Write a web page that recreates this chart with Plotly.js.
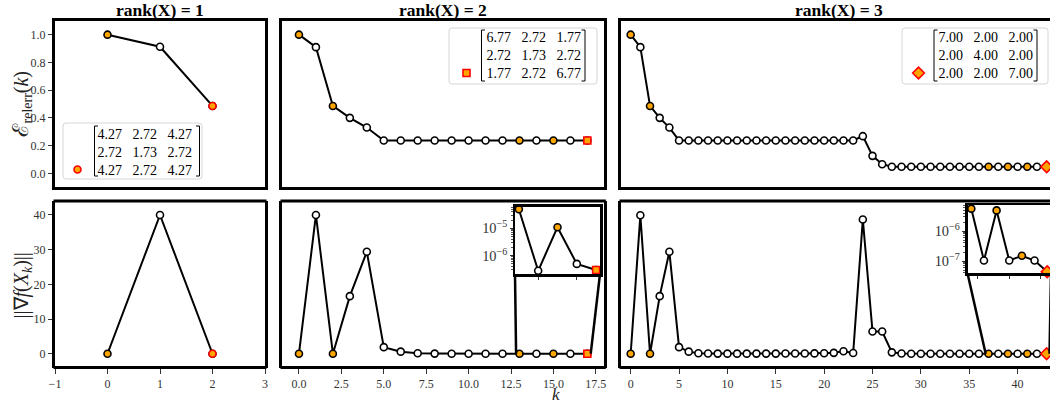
<!DOCTYPE html>
<html><head><meta charset="utf-8">
<script src="https://cdn.plot.ly/plotly-3.0.1.min.js"></script>
<style>html,body{margin:0;padding:0;overflow:hidden;background:#fff}</style>
</head><body><div id="chart" style="width:1065px;height:405px"></div>
<script>
// ---------------- data ----------------
const titles = ["rank(X) = 1", "rank(X) = 2", "rank(X) = 3"];

const k1 = [0, 1, 2];
const relerr1 = [1.0, 0.913, 0.486];
const grad1 = [0.0, 40.0, 0.0];
const orange1 = [0];

const k2 = [0,1,2,3,4,5,6,7,8,9,10,11,12,13,14,15,16,17];
const relerr2 = [1.0, 0.91, 0.486, 0.40, 0.33, 0.237, 0.237, 0.237, 0.237, 0.237, 0.237, 0.237, 0.237, 0.237, 0.237, 0.237, 0.237, 0.237];
const grad2 = [0.0, 40.0, 0.0, 16.6, 29.4, 1.9, 0.6, 0.12, 0.03, 0.008, 0.002, 0.0006, 0.0002, 5.0e-5, 2.8e-7, 1.1e-5, 5.0e-7, 3.0e-7];
const orange2 = [0, 2, 13, 15];
const inset2Start = 13;

const k3 = [0,1,2,3,4,5,6,7,8,9,10,11,12,13,14,15,16,17,18,19,20,21,22,23,24,25,26,27,28,29,30,31,32,33,34,35,36,37,38,39,40,41,42,43];
const relerr3 = [1.0, 0.91, 0.486, 0.40, 0.33,
  0.237, 0.237, 0.237, 0.237, 0.237, 0.237, 0.237, 0.237, 0.237, 0.237, 0.237, 0.237, 0.237, 0.237, 0.237, 0.237, 0.237, 0.237, 0.237,
  0.268, 0.126, 0.066,
  0.047, 0.047, 0.047, 0.047, 0.047, 0.047, 0.047, 0.047, 0.047, 0.047, 0.047, 0.047, 0.047, 0.047, 0.047, 0.047, 0.047];
const grad3 = [0.0, 39.9, 0.0, 16.6, 29.4, 1.9, 0.6,
  0.15, 0.05, 0.03, 0.02, 0.02, 0.02, 0.03, 0.03, 0.04, 0.05, 0.06, 0.08, 0.1, 0.15, 0.25, 0.7, 0.2,
  38.7, 6.4, 6.4, 0.4,
  0.05, 0.01, 0.003, 0.001, 4e-4, 1.5e-4, 6e-5, 2.5e-5, 1e-5,
  5.6e-6, 1.04e-7, 4.9e-6, 1.04e-7, 1.5e-7, 1.04e-7, 4.4e-8];
const orange3 = [0, 2, 37, 39, 41];
const inset3Start = 37;

const mat1 = [["4.27","2.72","4.27"],["2.72","1.73","2.72"],["4.27","2.72","4.27"]];
const mat2 = [["6.77","2.72","1.77"],["2.72","1.73","2.72"],["1.77","2.72","6.77"]];
const mat3 = [["7.00","2.00","2.00"],["2.00","4.00","2.00"],["2.00","2.00","7.00"]];

const xTicks2 = [0, 2.5, 5, 7.5, 10, 12.5, 15, 17.5];

// ---------------- layout geometry (pixels) ----------------
const W = 1065, H = 405;
const px = x => x / W;
const py = y => 1 - y / H;
const domX = (a, b) => [px(a), px(b)];
const domY = (top, bottom) => [py(bottom), py(top)];

const COLS = [[55, 265], [282, 604.3], [621, 1056.3]];
const ROWS = [[20.8, 187.2], [201.1, 367.6]];
const XR = [[-1, 3], [-1, 18], [-1, 44]];
const YR = [[-0.1, 1.1], [-4, 44]];
const IN2 = {x: [515, 600], y: [206.7, 274], xr: [12.8, 17.2], yr: [-6.67, -4.21], tv: [14, 16]};
const IN3 = {x: [967.5, 1051], y: [205, 273.3], xr: [36.7, 43.3], yr: [-7.41, -5.13], tv: [37.5, 40, 42.5]};

const ORANGE = '#FFA500', RED = '#FF0000';
const SERIF = "'Liberation Serif', 'Times New Roman', serif";
const LW = 3;

function dataToPx(col, row, xv, yv) {
  const [x0, x1] = COLS[col], [t, b] = ROWS[row];
  const xr = XR[col], yr = YR[row];
  return [x0 + (xv - xr[0]) / (xr[1] - xr[0]) * (x1 - x0), b - (yv - yr[0]) / (yr[1] - yr[0]) * (b - t)];
}

// ---------------- traces ----------------
const traces = [];
function addPanel(xs, ys, orangeIdx, xa, ya, finalSym, finalSize, legendId, legendName, showLeg) {
  traces.push({
    type: 'scatter', mode: 'lines+markers', x: xs, y: ys, xaxis: xa, yaxis: ya,
    line: {color: '#000', width: 2},
    marker: {size: 7, color: xs.map((_, i) => orangeIdx.includes(i) ? ORANGE : '#fff'), line: {color: '#000', width: 1.6}},
    showlegend: false, cliponaxis: false, hoverinfo: 'skip'
  });
  const n = xs.length;
  traces.push({
    type: 'scatter', mode: 'markers', x: [xs[n - 1]], y: [ys[n - 1]], xaxis: xa, yaxis: ya,
    marker: {symbol: finalSym, size: finalSize, color: ORANGE, line: {color: RED, width: 1.6}},
    showlegend: showLeg, legend: legendId, name: legendName, cliponaxis: false, hoverinfo: 'skip'
  });
}
const NB = '\u00a0\u00a0\u00a0';
const matText = m => m.map(r => r.join(NB)).join('<br>');

addPanel(k1, relerr1, orange1, 'x', 'y', 'circle', 7, 'legend', matText(mat1), true);
addPanel(k2, relerr2, orange2, 'x2', 'y2', 'square', 7, 'legend2', matText(mat2), true);
addPanel(k3, relerr3, orange3, 'x3', 'y3', 'diamond', 9, 'legend3', matText(mat3), true);
addPanel(k1, grad1, orange1, 'x4', 'y4', 'circle', 7, 'legend', 'g1', false);
addPanel(k2, grad2, orange2, 'x5', 'y5', 'square', 7, 'legend2', 'g2', false);
addPanel(k3, grad3, orange3, 'x6', 'y6', 'diamond', 9, 'legend3', 'g3', false);
addPanel(k2.slice(inset2Start), grad2.slice(inset2Start), orange2.map(i => i - inset2Start), 'x7', 'y7', 'square', 7, 'legend2', 'i2', false);
addPanel(k3.slice(inset3Start), grad3.slice(inset3Start), orange3.map(i => i - inset3Start), 'x8', 'y8', 'diamond', 9, 'legend3', 'i3', false);

// ---------------- axes ----------------
const layout = {
  width: W, height: H, margin: {l: 0, r: 0, t: 0, b: 0},
  paper_bgcolor: '#fff', plot_bgcolor: '#fff',
  font: {family: SERIF, color: '#222'},
  showlegend: true, shapes: [], annotations: []
};
const frame = {showline: true, mirror: true, linecolor: '#000', linewidth: LW, showgrid: false, zeroline: false, fixedrange: true, automargin: false};
const tickOn = {ticks: 'outside', ticklen: 4, tickwidth: 1, tickcolor: '#333', tickfont: {family: SERIF, size: 12, color: '#333'}};
const tickOff = {ticks: '', showticklabels: false};

for (let r = 0; r < 2; r++) {
  for (let c = 0; c < 3; c++) {
    const n = r * 3 + c + 1;
    const xk = n === 1 ? 'xaxis' : 'xaxis' + n;
    const yk = n === 1 ? 'yaxis' : 'yaxis' + n;
    const xa = Object.assign({}, frame, r === 1 ? tickOn : tickOff, {
      domain: domX(COLS[c][0], COLS[c][1]), range: XR[c], anchor: 'y' + (n === 1 ? '' : n)
    });
    if (r === 1) {
      // horizontal frame lines of the bottom row are drawn as domain shapes
      xa.showline = false; xa.ticklen = 5;
      if (c === 0) { xa.tickvals = [-1, 0, 1, 2, 3]; }
      if (c === 1) { xa.tickvals = xTicks2; xa.tickformat = '.1f'; }
      if (c === 2) { xa.dtick = 5; xa.tick0 = 0; }
      const ext = (LW / 2) / (COLS[c][1] - COLS[c][0]);
      [0, 1].forEach(yd => layout.shapes.push({
        type: 'line', xref: 'x' + n + ' domain', yref: 'y' + n + ' domain', layer: 'above',
        x0: -ext, x1: 1 + ext, y0: yd, y1: yd, line: {color: '#000', width: LW}
      }));
    }
    const ya = Object.assign({}, frame, c === 0 ? tickOn : tickOff, {
      domain: domY(ROWS[r][0], ROWS[r][1]), range: YR[r], anchor: 'x' + (n === 1 ? '' : n)
    });
    if (c === 0 && r === 0) { ya.dtick = 0.2; ya.tick0 = 0; ya.tickformat = '.1f'; }
    if (c === 0 && r === 1) { ya.dtick = 10; ya.tick0 = 0; }
    layout[xk] = xa; layout[yk] = ya;
  }
}
function insetAxes(n, ins) {
  layout['xaxis' + n] = Object.assign({}, frame, {
    linewidth: 2.5, domain: domX(ins.x[0], ins.x[1]), range: ins.xr, anchor: 'y' + n,
    ticks: 'outside', ticklen: 3, tickcolor: '#333', tickvals: ins.tv, showticklabels: false
  });
  layout['yaxis' + n] = Object.assign({}, frame, {
    linewidth: 2.5, type: 'log', domain: domY(ins.y[0], ins.y[1]), range: ins.yr, anchor: 'x' + n,
    dtick: 1, exponentformat: 'power', ticks: 'outside', ticklen: 3, tickcolor: '#333',
    tickfont: {family: SERIF, size: 11.5, color: '#333'},
    minor: {ticks: 'outside', ticklen: 2, tickcolor: '#555', dtick: 'D1'}
  });
}
insetAxes(7, IN2);
insetAxes(8, IN3);

// ---------------- legends (matrix boxes) ----------------
const LEG = [
  {id: 'legend', box: [63, 123, 202, 179], br: [94.5, 199.5, 126, 176], textLeft: 97.5, midRow: 151.5},
  {id: 'legend2', box: [449, 28, 597, 84], br: [481.5, 585, 30, 81], textLeft: 486.5, midRow: 55},
  {id: 'legend3', box: [902, 28, 1048, 84], br: [934, 1037, 30, 81], textLeft: 938.5, midRow: 55}
];
LEG.forEach(L => {
  const [bx0, by0, bx1, by1] = L.box;
  const rr = 3;
  layout.shapes.push({
    type: 'path', xref: 'paper', yref: 'paper', layer: 'above',
    path: `M ${px(bx0 + rr)} ${py(by0)} L ${px(bx1 - rr)} ${py(by0)} Q ${px(bx1)} ${py(by0)} ${px(bx1)} ${py(by0 + rr)} L ${px(bx1)} ${py(by1 - rr)} Q ${px(bx1)} ${py(by1)} ${px(bx1 - rr)} ${py(by1)} L ${px(bx0 + rr)} ${py(by1)} Q ${px(bx0)} ${py(by1)} ${px(bx0)} ${py(by1 - rr)} L ${px(bx0)} ${py(by0 + rr)} Q ${px(bx0)} ${py(by0)} ${px(bx0 + rr)} ${py(by0)} Z`,
    fillcolor: 'rgba(255,255,255,0.85)', line: {color: '#d6d6d6', width: 1}
  });
  const [l, r, t, b] = L.br, s = 3.5;
  layout.shapes.push({type: 'path', xref: 'paper', yref: 'paper', layer: 'above',
    path: `M ${px(l + s)} ${py(t)} L ${px(l)} ${py(t)} L ${px(l)} ${py(b)} L ${px(l + s)} ${py(b)}`, line: {color: '#000', width: 1}});
  layout.shapes.push({type: 'path', xref: 'paper', yref: 'paper', layer: 'above',
    path: `M ${px(r - s)} ${py(t)} L ${px(r)} ${py(t)} L ${px(r)} ${py(b)} L ${px(r - s)} ${py(b)}`, line: {color: '#000', width: 1}});
  layout[L.id] = {
    x: px(L.textLeft - 40), y: py(L.midRow), xanchor: 'left', yanchor: 'middle',
    bgcolor: 'rgba(0,0,0,0)', borderwidth: 0, valign: 'bottom',
    font: {family: SERIF, size: 14, color: '#000'}, itemclick: false, itemdoubleclick: false
  };
});

// ---------------- inset connectors ----------------
function connectors(ins, col) {
  const yBot = Math.pow(10, ins.yr[0]);
  const a = dataToPx(col, 1, ins.xr[0], yBot);
  const b = dataToPx(col, 1, ins.xr[1], yBot);
  layout.shapes.push({type: 'line', xref: 'paper', yref: 'paper', layer: 'above',
    x0: px(ins.x[0]), y0: py(ins.y[1]), x1: px(a[0]), y1: py(a[1]), line: {color: '#000', width: 2.5}});
  layout.shapes.push({type: 'line', xref: 'paper', yref: 'paper', layer: 'above',
    x0: px(ins.x[1]), y0: py(ins.y[1]), x1: px(b[0]), y1: py(b[1]), line: {color: '#000', width: 2.5}});
}
connectors(IN2, 1);
connectors(IN3, 2);

// ---------------- text ----------------
titles.forEach((t, c) => {
  layout.annotations.push({text: '<b>' + t + '</b>', xref: 'paper', yref: 'paper', x: px((COLS[c][0] + COLS[c][1]) / 2), y: py(10.5),
    xanchor: 'center', yanchor: 'middle', showarrow: false, font: {family: SERIF, size: 17.5, color: '#000'}});
});
layout.annotations.push({text: "<span style=\"font-family:'DejaVu Serif';font-size:22px\">ℰ</span><sub>relerr</sub>(<i>k</i>)", xref: 'paper', yref: 'paper', x: px(20.5), y: py(104),
  textangle: -90, xanchor: 'center', yanchor: 'middle', showarrow: false, font: {family: SERIF, size: 20, color: '#222'}});
layout.annotations.push({text: '||∇<i>f</i>(<i>X</i><sub><i>k</i></sub>)||', xref: 'paper', yref: 'paper', x: px(21.5), y: py(286),
  textangle: -90, xanchor: 'center', yanchor: 'middle', showarrow: false, font: {family: SERIF, size: 20, color: '#222'}});
layout.annotations.push({text: '<i>k</i>', xref: 'paper', yref: 'paper', x: px(556), y: py(405),
  xanchor: 'center', yanchor: 'bottom', showarrow: false, borderpad: 0, font: {family: SERIF, size: 17, color: '#222'}});

Plotly.newPlot('chart', traces, layout, {staticPlot: true, displayModeBar: false});
</script></body></html>
